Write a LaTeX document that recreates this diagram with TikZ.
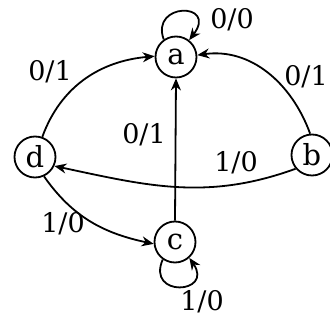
\documentclass[tikz,border=0pt]{standalone}
\usepackage{fontspec}
\setmainfont{DejaVu Serif}
\usetikzlibrary{arrows.meta}
\begin{document}
\begin{tikzpicture}[x=1pt,y=-1pt,
  state/.style={circle,draw,line width=1.8pt,minimum size=41pt,inner sep=0pt,font=\fontsize{29}{30}\selectfont},
  lbl/.style={font=\fontsize{27}{29}\selectfont,inner sep=0pt},
  edge/.style={line width=1.8pt,-{Stealth[length=12pt,width=10pt]}}]
\useasboundingbox (0,0) rectangle (330,320);
\node[state] (a) at (176,57) {a};
\node[state] (d) at (35,157) {d};
\node[state] (b) at (312,155) {b};
\node[state] (c) at (175,242) {c};
% loops
\draw[edge] (a.125) .. controls (150,2) and (218,2) .. (a.52);
\draw[edge] (c.235) .. controls (146,298) and (214,294) .. (c.-48);
% arcs
\draw[edge] (d.70) to[out=70,in=185] (a.178);
\draw[edge] (b.95) to[out=110,in=8] (a.5);
\draw[edge] (c.north) -- (a.south);
\draw[edge] (b.220) to[out=200,in=-12] (d.-25);
\draw[edge] (d.-65) to[out=-55,in=168] (c.185);
% labels
\node[lbl] (l1) at (232,20) {0/0};
\node[lbl] (l2) at (50,72) {0/1};
\node[lbl] (l3) at (306,77) {0/1};
\node[lbl] (l4) at (144,135) {0/1};
\node[lbl] (l5) at (236,163) {1/0};
\node[lbl] (l6) at (63,224) {1/0};
\node[lbl] (l7) at (202,302) {1/0};
\end{tikzpicture}
\end{document}
